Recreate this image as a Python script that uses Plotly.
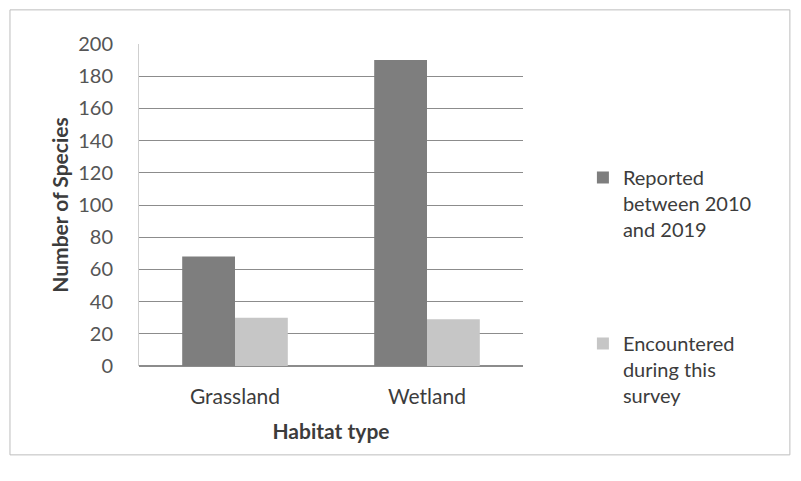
import plotly.graph_objects as go

categories = ["Grassland", "Wetland"]
reported = [68, 190]
encountered = [30, 29]
series_names = ["Reported<br>between 2010<br>and 2019", "Encountered<br>during this<br>survey"]
y_ticks = [0, 20, 40, 60, 80, 100, 120, 140, 160, 180, 200]

font_family = "Lato, Open Sans, sans-serif"
text_color = "#3c3c3c"

fig = go.Figure()
fig.add_trace(go.Bar(x=categories, y=reported, name=series_names[0],
                     marker=dict(color="#7e7e7e", line=dict(width=0)),
                     legendgroup="a"))
fig.add_trace(go.Bar(x=categories, y=encountered, name=series_names[1],
                     marker=dict(color="#c6c6c6", line=dict(width=0)),
                     legendgroup="b"))

fig.update_layout(
    width=785, height=465,
    margin=dict(l=131, r=270, t=36, b=107),
    paper_bgcolor="white", plot_bgcolor="white",
    barmode="group", bargap=0.45, bargroupgap=0,
    font=dict(family=font_family, size=20, color=text_color),
    showlegend=True,
    legend=dict(x=1.156, y=0.646, xanchor="left", yanchor="top",
                tracegroupgap=85, valign="top",
                font=dict(size=20, color=text_color),
                itemwidth=30, bgcolor="rgba(0,0,0,0)"),
    xaxis=dict(title=dict(text="<b>Habitat type</b>", standoff=17,
                          font=dict(size=21, color=text_color)),
               showline=False, ticks="", ticklabelstandoff=16,
               tickfont=dict(size=21, color=text_color)),
    yaxis=dict(title=dict(text="<b>Number of Species</b>", standoff=3,
                          font=dict(size=21, color=text_color)),
               range=[0, 200], tickvals=y_ticks, showgrid=True,
               gridcolor="#8c8c8c", gridwidth=1,
               showline=True, linecolor="#cfcfcf", linewidth=1,
               zeroline=True, zerolinecolor="#8c8c8c",
               ticklabelstandoff=21,
               tickfont=dict(size=20, color="#555555"), ticks=""),
    shapes=[dict(type="rect", xref="paper", yref="paper",
                 x0=-0.336, x1=1.695, y0=-0.276, y1=1.106,
                 line=dict(color="#bdbdbd", width=1), fillcolor="rgba(0,0,0,0)",
                 layer="below")],
)

fig.write_html("out.html")
